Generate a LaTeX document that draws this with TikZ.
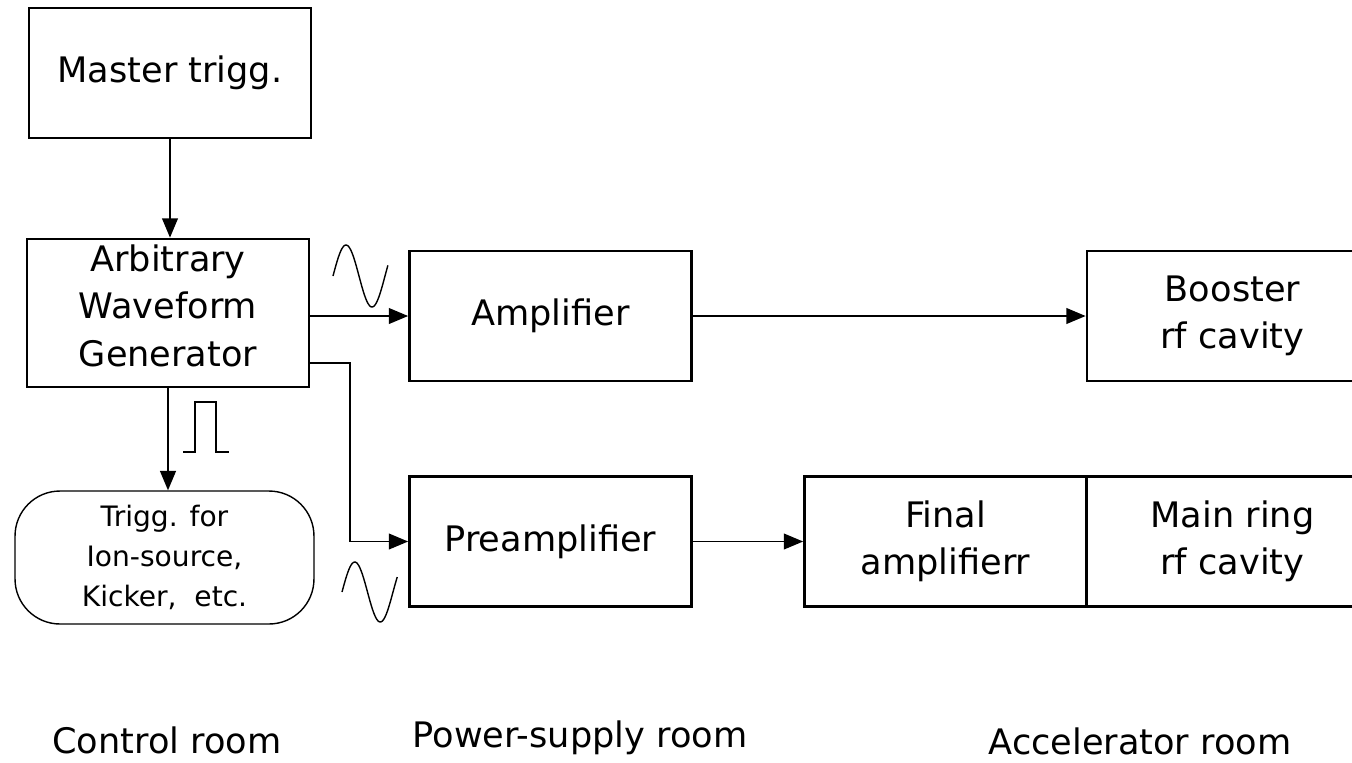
\documentclass[tikz,border=0pt]{standalone}
\usepackage{fontspec}
\setmainfont{DejaVu Sans}
\usetikzlibrary{arrows.meta, positioning}

\begin{document}
\begin{tikzpicture}[
            x=0.02cm, y=-0.02cm,
            every node/.style={font=\fontsize{20pt}{27pt}\selectfont, align=center},
            box/.style={rectangle, draw, line width=1.6pt, minimum width=5.64cm, minimum height=2.6cm, inner sep=0pt},
            capsule/.style={rectangle, rounded corners=0.9cm, draw, line width=0.8pt, minimum width=5.98cm, minimum height=2.66cm, inner sep=0pt, font=\fontsize{16pt}{23pt}\selectfont},
            arrow/.style={-{Triangle[length=11pt, width=9pt]}, line width=0.9pt},
            wave/.style={line width=0.8pt}
        ]
            \useasboundingbox (0,0) rectangle (1352,762);
            \clip (0,0) rectangle (1352,762);
            % blocks
            \node[box] (master) at (170,73) {Master trigg.};
            \node[box, minimum height=2.96cm, text depth=0.3cm] (awg) at (168,313) {Arbitrary\\Waveform\\Generator};
            \node[box] (amp) at (550.5,316) {Amplifier};
            \node[box, minimum width=5.82cm] (booster) at (1232.5,316) {Booster\\rf cavity};
            \node[box] (preamp) at (550.5,541.5) {Preamplifier};
            \node[box] (final) at (945.5,541.5) {Final\\amplifierr};
            \node[box, minimum width=5.82cm] (mainring) at (1232.5,541.5) {Main ring\\rf cavity};
            \node[capsule] (trigg) at (164.5,557.5) {Trigg. for\\Ion-source,\\Kicker,~ etc.};
            % connectors
            \draw[arrow] (master.south) -- (master.south |- awg.north);
            \draw[arrow] (awg.east |- amp.west) -- (amp.west);
            \draw[arrow] (amp) -- (booster);
            \draw[arrow] ([yshift=-1cm]awg.east) -| ([xshift=-1.16cm]preamp.west) -- (preamp.west);
            \draw[arrow] (preamp) -- (final);
            \draw[arrow] (awg.south) -- (awg.south |- trigg.north);
            % signal shapes
            \draw[wave] plot[domain=0:380, samples=50] ({333+\x/360*52}, {276-31*sin(\x)});
            \draw[wave] plot[domain=0:390, samples=50] ({342+\x/360*51}, {592-30*sin(\x)});
            \draw[wave] (183,452) -- (195,452) -- (195,402) -- (216,402) -- (216,452) -- (229,452);
            % rooms
            \node (ctrl) at (167,740) {Control room};
            \node (psroom) at (580,738) {Power-supply room};
            \node (accroom) at (1140,741) {Accelerator room};
        \end{tikzpicture}
\end{document}
